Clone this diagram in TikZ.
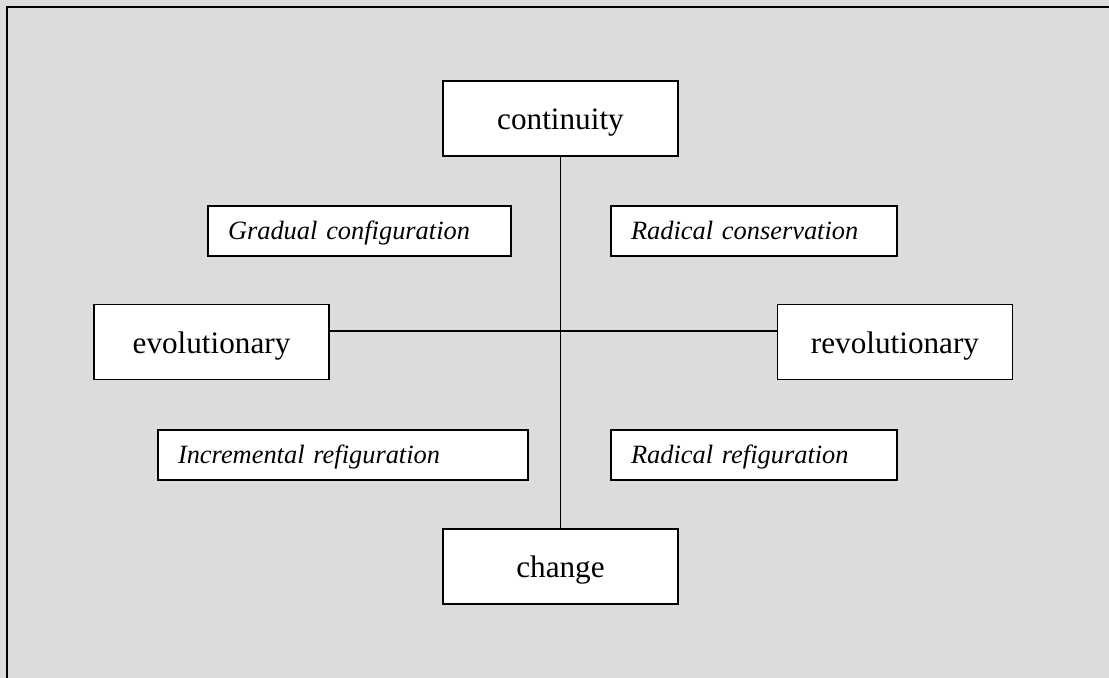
\documentclass[tikz,border=0pt]{standalone}
\usepackage{fontspec}
\setmainfont{Liberation Serif}
\usepackage{tikz}
\usetikzlibrary{positioning}
\definecolor{panel}{RGB}{220,220,220}

\begin{document}
\begin{tikzpicture}[x=0.5pt,y=-0.5pt,node distance=2cm,on grid,
    pole/.style={draw,fill=white,line width=0.6pt,inner sep=0pt,
        minimum width=117.5pt,minimum height=37.5pt,
        text height=13pt,text depth=1.5pt,
        font=\fontsize{15.6}{18}\selectfont},
    field/.style={draw,fill=white,line width=0.6pt,inner ysep=0pt,
        inner xsep=10pt,minimum height=25pt,align=left,
        text height=10.5pt,text depth=1.5pt,
        font=\fontsize{13.2}{16}\selectfont\itshape}]

        \useasboundingbox (0,0) rectangle (1109,678);
        \fill[panel] (0,0) rectangle (1109,678);
        \draw[line width=1pt] (7,678) -- (7,7) -- (1109,7);

        \coordinate (hub) at (561,331);

        \node[pole] (continuity) at (560.5,118.5) {continuity};
        \node[pole] (change) [below=224pt of continuity] {change};
        \node[pole] (evolutionary) at (211.5,342) {evolutionary};
        \node[pole] (revolutionary) [right=341.75pt of evolutionary] {revolutionary};

        \node[field,text width=131.5pt] (gradual) at (359.5,231) {Gradual configuration};
        \node[field,text width=123pt] (conservation) at (754,231) {Radical conservation};
        \node[field,text width=165pt] (incremental) at (343,455) {Incremental refiguration};
        \node[field,text width=123pt] (refiguration) [below=112pt of conservation] {Radical refiguration};

        \path[draw,line width=0.6pt]
        (continuity) edge (change)
        (evolutionary.east |- hub) edge (revolutionary.west |- hub);

\end{tikzpicture}
\end{document}
